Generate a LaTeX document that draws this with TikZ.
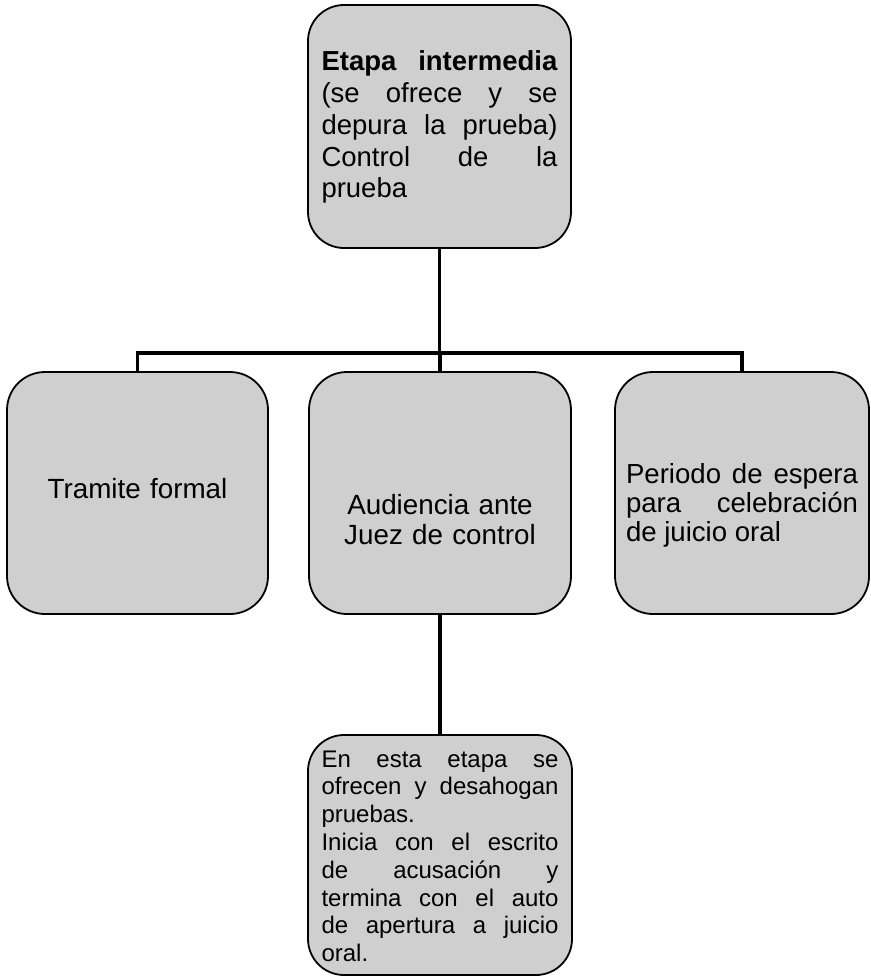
\documentclass[tikz,border=0pt]{standalone}
\usepackage{fontspec}
\setmainfont{Liberation Sans}
\usepackage{tikz}
\setlength{\parindent}{0pt}
\definecolor{boxgray}{RGB}{207,207,207}
% one justified line of a box text
\newcommand{\jline}[1]{\makebox[\hsize][s]{\spaceskip=0pt\relax #1}\par}

\begin{document}
\begin{tikzpicture}[x=1pt, y=-1pt,
    stage/.style={draw, line width=1.8pt, fill=boxgray, rounded corners=36pt,
      inner sep=0pt, text width=236pt, align=justify},
    link/.style={line width=3.6pt}]
  \useasboundingbox (0,0) rectangle (870,979);

  % Top stage
  \node[stage, minimum width=263pt, minimum height=243pt, text height=21.4pt,
        font=\fontsize{27.5}{31.8}\selectfont] (inter) at (439.5,126.5)
    {\jline{\textbf{Etapa intermedia}}
     \jline{(se ofrece y se}
     \jline{depura la prueba)}
     \jline{Control de la}
     prueba};

  % Three branches
  \node[stage, rounded corners=38pt, minimum width=261pt, minimum height=242pt,
        align=center, text height=10.6pt,
        font=\fontsize{27.8}{30}\selectfont] (formal) at (137.5,493)
    {Tramite formal};
  \node[stage, rounded corners=38pt, minimum width=262pt, minimum height=242pt,
        align=center, text height=74pt,
        font=\fontsize{27.8}{30}\selectfont] (audiencia) at (440,493)
    {Audiencia ante\\Juez de control};
  \node[stage, rounded corners=38pt, minimum width=254pt, minimum height=242pt,
        text width=232pt, text height=44.8pt,
        font=\fontsize{27.6}{29.2}\selectfont] (espera) at (742,493)
    {\jline{Periodo de espera}
     \jline{para celebración}
     de juicio oral};

  % Note under the hearing
  \node[stage, minimum width=264pt, minimum height=240pt, text width=237pt,
        text height=19.2pt,
        font=\fontsize{24}{27.8}\selectfont] (prueba) at (440,855)
    {\jline{En esta etapa se}
     \jline{ofrecen y desahogan}
     pruebas.\par
     \jline{Inicia con el escrito}
     \jline{de acusación y}
     \jline{termina con el auto}
     \jline{de apertura a juicio}
     oral.};

  % Connectors
  \coordinate (fork) at (440,353);
  \draw[link] (inter.south) -- (inter.south |- fork);
  \draw[link] (formal.north) |- (fork) -| (espera.north);
  \draw[link] (fork) -- (audiencia.north);
  \draw[link] (audiencia.south) -- (prueba.north);
\end{tikzpicture}
\end{document}
